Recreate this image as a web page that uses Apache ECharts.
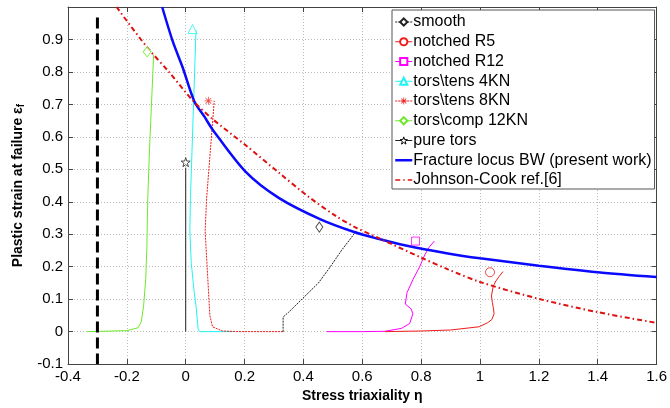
<!DOCTYPE html>
<html>
<head>
<meta charset="utf-8">
<script src="https://cdn.jsdelivr.net/npm/echarts@6/dist/echarts.min.js"></script>
<style>
html,body{margin:0;padding:0;background:#fff;}
#chart{width:670px;height:408px;}
</style>
</head>
<body>
<div id="chart"></div>
<script>
// ---- axis ranges ----
const xRange = [-0.4, 1.6];
const yRange = [-0.1, 1.0];
const xStep = 0.2;
const yStep = 0.1;

// ---- legend names ----
const names = ['smooth', 'notched R5', 'notched R12', 'tors\\tens 4KN', 'tors\\tens 8KN',
  'tors\\comp 12KN', 'pure tors', 'Fracture locus BW (present work)', 'Johnson-Cook ref.[6]'];

// ---- experimental loading paths (triaxiality, plastic strain) ----
const smoothPath = [[0.331,0],[0.331,0.045],[0.35,0.06],[0.395,0.1],[0.451,0.15],[0.49,0.198],[0.53,0.251],[0.564,0.291],[0.58,0.312]];
const smoothFail = [[0.454,0.322]];

const r5Path = [[0.676,0],[0.8,0.002],[0.9,0.005],[0.997,0.015],[1.025,0.027],[1.04,0.037],[1.048,0.055],[1.045,0.075],[1.042,0.09],[1.039,0.11],[1.045,0.14],[1.054,0.156],[1.065,0.17],[1.078,0.185]];
const r5Fail = [[1.034,0.183]];

const r12Path = [[0.479,0],[0.6,0],[0.676,0.001],[0.733,0.01],[0.761,0.025],[0.772,0.055],[0.766,0.07],[0.746,0.085],[0.752,0.12],[0.772,0.16],[0.795,0.2],[0.812,0.236],[0.828,0.261],[0.845,0.279]];
const r12Fail = [[0.781,0.279]];

const t4Path = [[0.16,0],[0.047,0],[0.042,0.01],[0.035,0.08],[0.029,0.12],[0.019,0.21],[0.014,0.31],[0.016,0.41],[0.035,0.929]];
const t4Fail = [[0.023,0.932]];

const t8Path = [[0.331,0],[0.18,0],[0.125,0.002],[0.091,0.015],[0.082,0.05],[0.074,0.18],[0.066,0.31],[0.071,0.41],[0.097,0.711]];
const t8Fail = [[0.077,0.711]];

const c12Path = [[-0.335,0],[-0.2,0.003],[-0.162,0.012],[-0.151,0.03],[-0.143,0.08],[-0.136,0.16],[-0.132,0.26],[-0.129,0.41],[-0.123,0.562],[-0.109,0.853]];
const c12Fail = [[-0.131,0.862]];

const pureTorsPath = [[0,0],[0,0.505]];
const pureTorsFail = [[0,0.522]];

// ---- fracture loci ----
const bwLocus = [[-0.08,1.0],[-0.044,0.894],[-0.01,0.813],[0.029,0.71],[0.063,0.663],[0.091,0.623],[0.204,0.492],[0.316,0.412],[0.46,0.345],[0.575,0.306],[0.654,0.286],[0.744,0.266],[0.891,0.241],[1.0,0.226],[1.2,0.203],[1.4,0.183],[1.6,0.168]];
const jcLocus = [[-0.235,1.0],[-0.134,0.879],[-0.055,0.798],[0.023,0.713],[0.091,0.655],[0.204,0.574],[0.316,0.49],[0.418,0.415],[0.512,0.355],[0.575,0.322],[0.654,0.289],[0.8,0.228],[0.891,0.192],[1.0,0.153],[1.2,0.101],[1.4,0.06],[1.6,0.027]];

// ---- cut-off triaxiality line ----
const cutoffLine = [[-0.3,0.968],[-0.3,-0.1]];

const FONT = "'Liberation Sans', Arial, sans-serif";
const starPath = 'path://M0,-10L2.35,-3.24L9.51,-3.09L3.8,1.24L5.88,8.09L0,4L-5.88,8.09L-3.8,1.24L-9.51,-3.09L-2.35,-3.24Z';
const asteriskPath = 'path://M-1,-10L1,-10L1,10L-1,10Z M-10,-1L10,-1L10,1L-10,1Z M-7.7,-6.3L-6.3,-7.7L7.7,6.3L6.3,7.7Z M6.3,-7.7L7.7,-6.3L-6.3,7.7L-7.7,6.3Z';

const C = {
  black: '#222222', red: '#ee1c1c', magenta: '#ff00ff', cyan: '#22f4f4',
  green: '#6fe82a', blue: '#0a0aff', jc: '#dd1010'
};

function pathSeries(name, data, color, type, width, symbol, z) {
  return {
    name: name, type: 'line', data: data, showSymbol: false, symbol: symbol,
    smooth: false, lineStyle: {color: color, type: type, width: width},
    itemStyle: {color: color}, z: z || 2, silent: true
  };
}
function failSeries(name, data, color, symbol, size) {
  return {
    name: name, type: 'scatter', data: data, symbol: symbol, symbolSize: size,
    itemStyle: {color: '#fff', borderColor: color, borderWidth: 1}, z: 6, silent: true
  };
}

const chart = echarts.init(document.getElementById('chart'), null, {renderer: 'canvas'});

function gridLine() {
  return {show: true, lineStyle: {color: '#bdbdbd', type: [1, 2], width: 1, opacity: 1}};
}

const option = {
  animation: false,
  backgroundColor: '#fff',
  grid: {left: 68, right: 10, top: 7, bottom: 38, show: false},
  xAxis: [
    {
      type: 'value', position: 'bottom', min: xRange[0], max: xRange[1], interval: xStep,
      axisLine: {show: true, onZero: false, lineStyle: {color: '#444', width: 1}},
      axisTick: {show: true, inside: true, length: 5, lineStyle: {color: '#444'}},
      axisLabel: {color: '#000', fontSize: 15, fontFamily: FONT, margin: 5},
      splitLine: gridLine(),
      name: 'Stress triaxiality η', nameLocation: 'middle', nameGap: 20,
      nameTextStyle: {color: '#000', fontSize: 14, fontWeight: 'bold', fontFamily: FONT}
    },
    {
      type: 'value', position: 'top', min: xRange[0], max: xRange[1], interval: xStep,
      axisLine: {show: true, onZero: false, lineStyle: {color: '#444', width: 1}},
      axisTick: {show: true, inside: true, length: 5, lineStyle: {color: '#444'}},
      axisLabel: {show: false}, splitLine: gridLine()
    }
  ],
  yAxis: [
    {
      type: 'value', position: 'left', min: yRange[0], max: yRange[1], interval: yStep,
      axisLine: {show: true, onZero: false, lineStyle: {color: '#444', width: 1}},
      axisTick: {show: true, inside: true, length: 5, lineStyle: {color: '#444'}},
      axisLabel: {color: '#000', fontSize: 15, fontFamily: FONT, margin: 5,
        formatter: function (v) { return Math.abs(v - 1) < 1e-9 ? '' : String(+v.toFixed(1)); }},
      splitLine: gridLine(),
      name: '{a|Plastic strain at failure ε}{s|f}', nameLocation: 'middle', nameGap: 42,
      nameTextStyle: {color: '#000', fontSize: 14, fontWeight: 'bold', fontFamily: FONT,
        rich: {
          a: {fontSize: 14, fontWeight: 'bold', fontFamily: FONT, color: '#000'},
          s: {fontSize: 10, fontWeight: 'bold', fontFamily: FONT, color: '#000', verticalAlign: 'bottom', padding: [6, 0, 0, 0]}
        }}
    },
    {
      type: 'value', position: 'right', min: yRange[0], max: yRange[1], interval: yStep,
      axisLine: {show: true, onZero: false, lineStyle: {color: '#444', width: 1}},
      axisTick: {show: true, inside: true, length: 5, lineStyle: {color: '#444'}},
      axisLabel: {show: false}, splitLine: gridLine()
    }
  ],
  legend: {
    show: true, orient: 'vertical', left: 392, top: 10,
    padding: [4, 3, 1, 2], itemGap: 3.75, itemWidth: 17, itemHeight: 9,
    backgroundColor: '#fff', borderColor: '#555', borderWidth: 1, borderRadius: 0,
    textStyle: {color: '#000', fontSize: 16, fontFamily: FONT, lineHeight: 16, padding: [0, 0, 0, -4]},
    selectedMode: false,
    data: [
      {name: names[0], lineStyle: {width: 1}},
      {name: names[1], lineStyle: {width: 1}},
      {name: names[2], lineStyle: {width: 1}},
      {name: names[3], lineStyle: {width: 1}},
      {name: names[4], lineStyle: {width: 1}},
      {name: names[5], lineStyle: {width: 1}},
      {name: names[6], lineStyle: {width: 1}, itemStyle: {color: '#fff', borderColor: '#000', borderWidth: 1}},
      {name: names[7], lineStyle: {width: 2.5}, itemStyle: {opacity: 0}},
      {name: names[8], lineStyle: {width: 1.5}, itemStyle: {opacity: 0}}
    ]
  },
  series: [
    pathSeries('cutoff', cutoffLine, '#000', [11, 5], 3, 'none', 3),
    pathSeries(names[5], c12Path, C.green, 'solid', 1, 'emptyDiamond'),
    pathSeries(names[6], pureTorsPath, C.black, 'solid', 1, starPath),
    pathSeries(names[3], t4Path, C.cyan, 'solid', 1, 'emptyTriangle'),
    pathSeries(names[4], t8Path, C.red, [2, 1], 1, asteriskPath),
    pathSeries(names[0], smoothPath, C.black, [2, 1], 1, 'emptyDiamond'),
    pathSeries(names[2], r12Path, C.magenta, 'solid', 1, 'emptyRect'),
    pathSeries(names[1], r5Path, C.red, 'solid', 1, 'emptyCircle'),
    Object.assign(pathSeries(names[7], bwLocus, C.blue, 'solid', 2.5, 'none', 4), {smooth: 0.3}),
    Object.assign(pathSeries(names[8], jcLocus, C.jc, [5, 3, 1.5, 3], 2, 'none', 5), {smooth: 0.3}),
    failSeries(names[0], smoothFail, C.black, 'diamond', [7, 10]),
    failSeries(names[1], r5Fail, C.red, 'circle', 9),
    failSeries(names[2], r12Fail, C.magenta, 'rect', 8),
    failSeries(names[3], t4Fail, C.cyan, 'triangle', 9),
    Object.assign(failSeries(names[4], t8Fail, C.red, asteriskPath, 8), {itemStyle: {color: C.red}}),
    failSeries(names[5], c12Fail, C.green, 'diamond', [8, 10]),
    failSeries(names[6], pureTorsFail, C.black, starPath, 9)
  ]
};
chart.setOption(option);
</script>
</body>
</html>
